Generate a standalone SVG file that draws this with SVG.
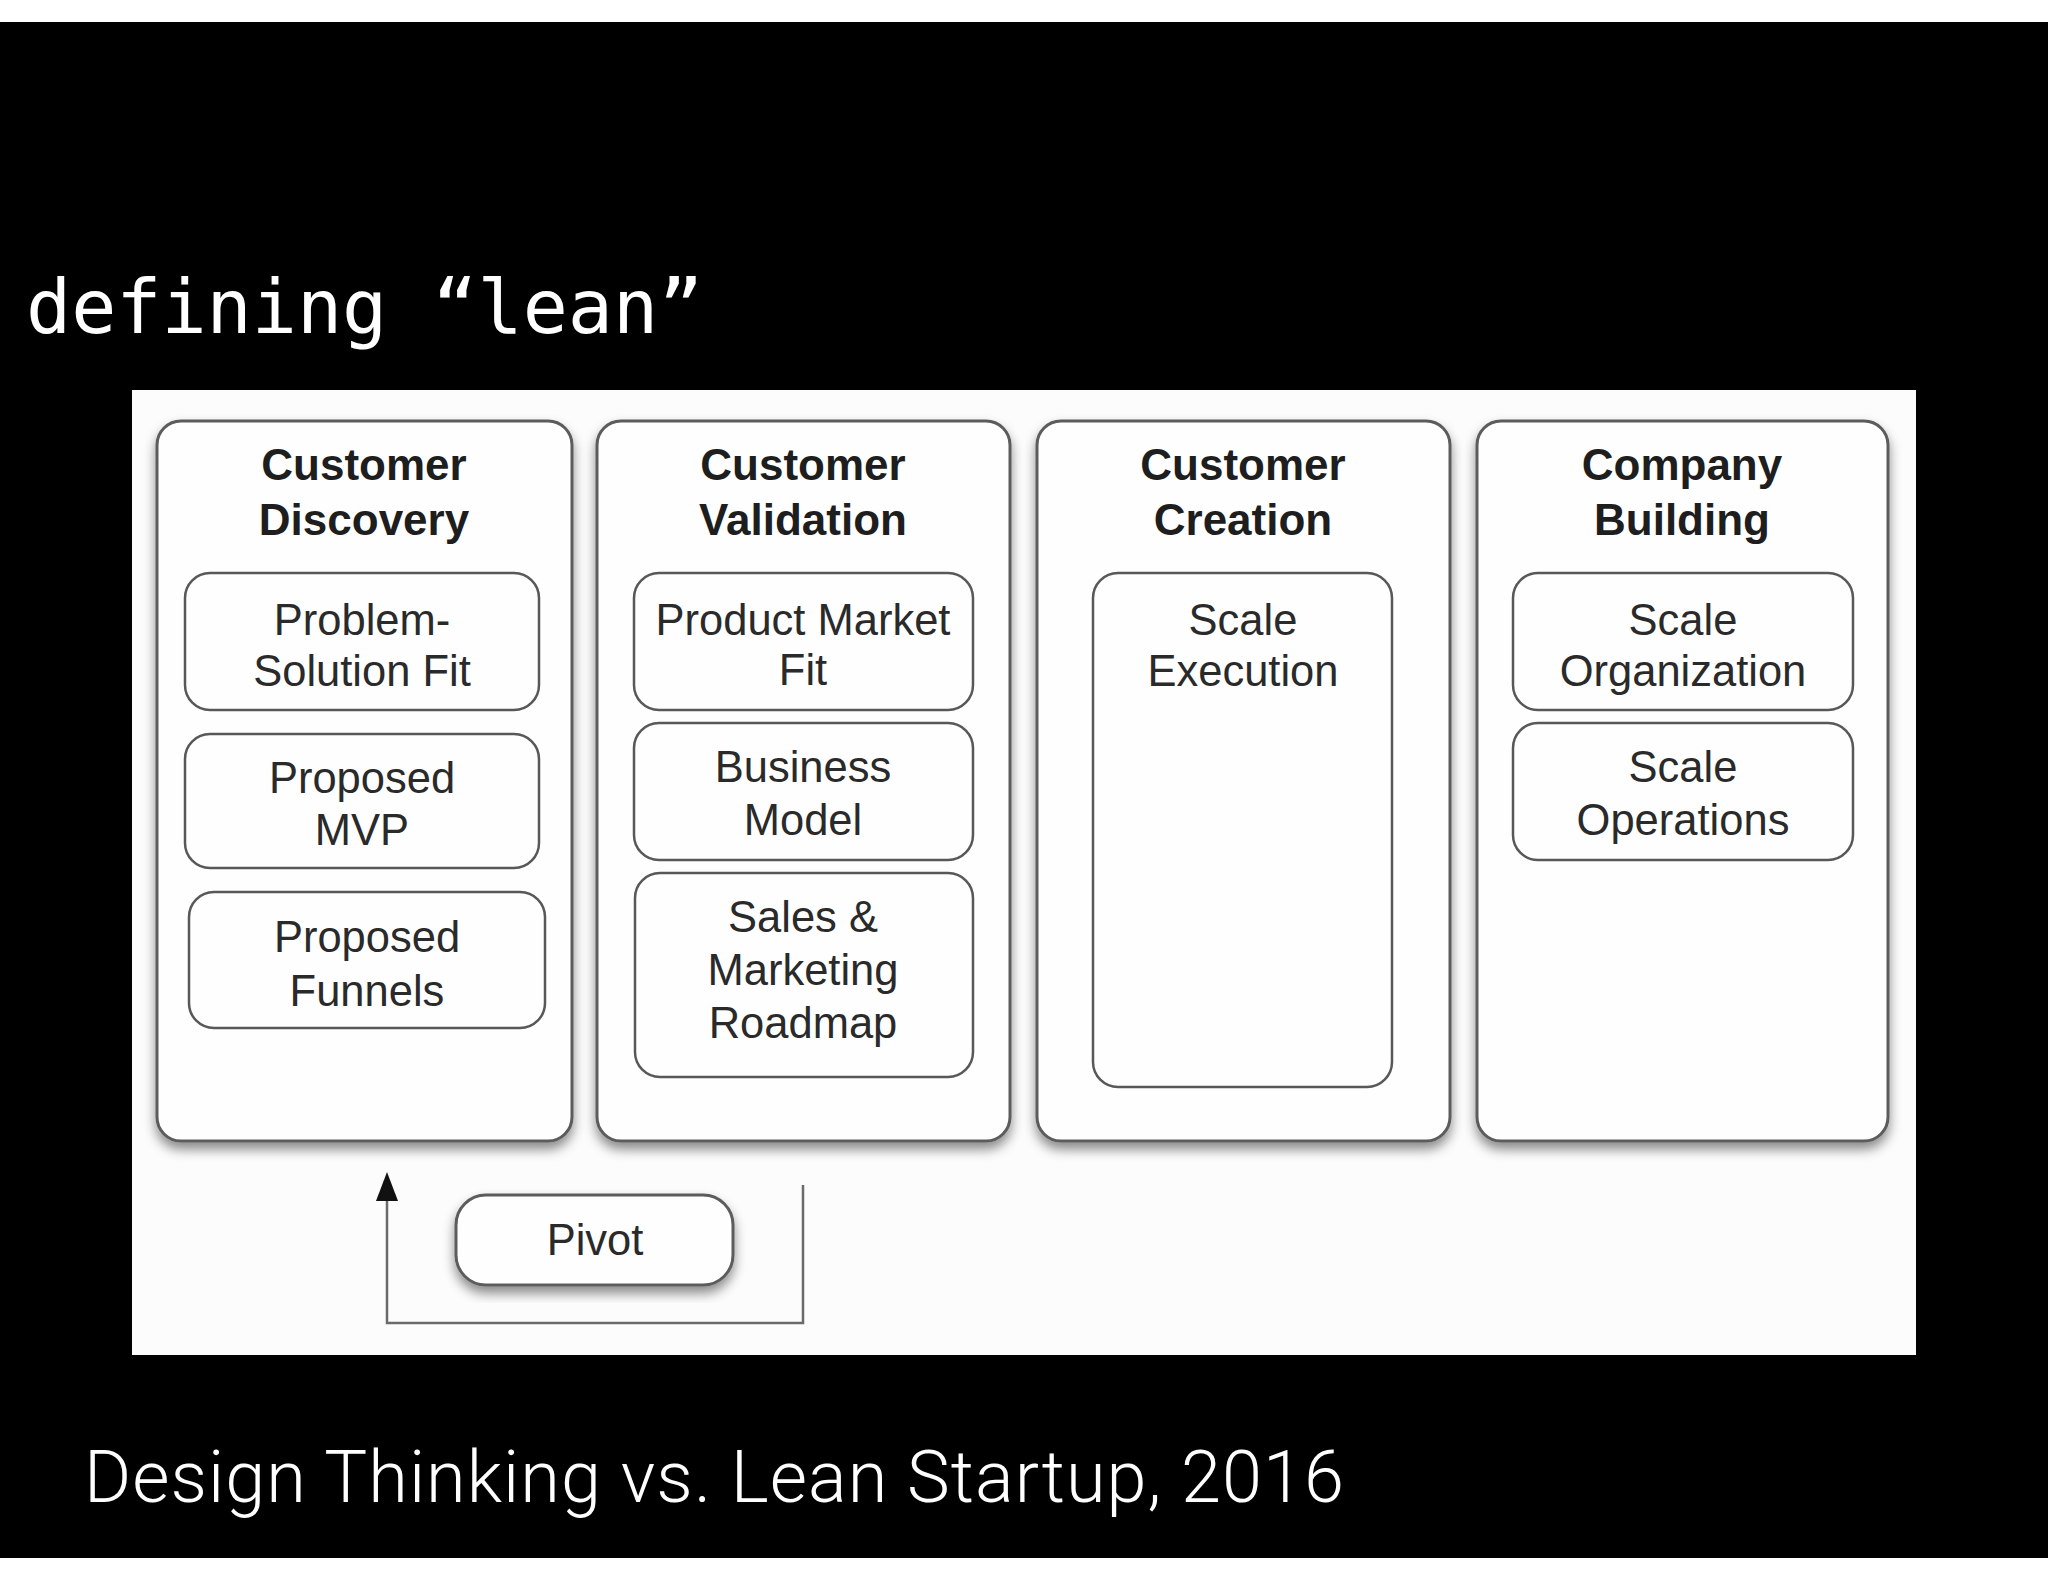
<svg xmlns="http://www.w3.org/2000/svg" width="2048" height="1582" viewBox="0 0 2048 1582">
<defs>
<style>
.col{fill:#fefefe;stroke:#5c5c5c;stroke-width:3}
.sub{fill:#fefefe;stroke:#585858;stroke-width:2.5}
.hdr{font-family:"Liberation Sans",Arial,sans-serif;font-weight:bold;font-size:44px;fill:#1e1e1e;text-anchor:middle}
.lbl{font-family:"Liberation Sans",Arial,sans-serif;font-size:43.5px;fill:#2a2a2a;text-anchor:middle}
.conn{fill:none;stroke:#6a6a6a;stroke-width:2.5}
</style>
<filter id="sh" x="-10%" y="-10%" width="120%" height="130%">
<feDropShadow dx="0" dy="7" stdDeviation="6" flood-color="#000" flood-opacity="0.45"/>
</filter>
</defs>
<rect x="0" y="0" width="2048" height="1582" fill="#ffffff"/>
<rect x="0" y="22" width="2048" height="1536" fill="#000000"/>
<text x="26" y="333" font-family="DejaVu Sans Mono,monospace" font-size="75" fill="#ffffff">defining “lean”</text>
<rect x="132" y="390" width="1784" height="965" fill="#fcfcfc"/>

<g id="connectors">
<polyline class="conn" points="803,1185 803,1323 387,1323 387,1200"/>
<path d="M376,1201 L387,1172 L398,1201 Z" fill="#111"/>
</g>

<g id="customer-discovery">
<rect class="col" x="157" y="421" width="415" height="720" rx="24" filter="url(#sh)"/>
<text class="hdr" x="364" y="480">Customer</text>
<text class="hdr" x="364" y="535">Discovery</text>
</g>
<g id="problem-solution-fit">
<rect class="sub" x="185" y="573" width="354" height="137" rx="25"/>
<text class="lbl" x="362" y="635">Problem-</text>
<text class="lbl" x="362" y="686">Solution Fit</text>
</g>
<g id="proposed-mvp">
<rect class="sub" x="185" y="734" width="354" height="134" rx="25"/>
<text class="lbl" x="362" y="793">Proposed</text>
<text class="lbl" x="362" y="845">MVP</text>
</g>
<g id="proposed-funnels">
<rect class="sub" x="189" y="892" width="356" height="136" rx="25"/>
<text class="lbl" x="367" y="952">Proposed</text>
<text class="lbl" x="367" y="1006">Funnels</text>
</g>

<g id="customer-validation">
<rect class="col" x="597" y="421" width="413" height="720" rx="24" filter="url(#sh)"/>
<text class="hdr" x="803" y="480">Customer</text>
<text class="hdr" x="803" y="535">Validation</text>
</g>
<g id="product-market-fit">
<rect class="sub" x="634" y="573" width="339" height="137" rx="25"/>
<text class="lbl" x="803" y="635">Product Market</text>
<text class="lbl" x="803" y="685">Fit</text>
</g>
<g id="business-model">
<rect class="sub" x="634" y="723" width="339" height="137" rx="25"/>
<text class="lbl" x="803" y="782">Business</text>
<text class="lbl" x="803" y="835">Model</text>
</g>
<g id="sales-marketing-roadmap">
<rect class="sub" x="635" y="873" width="338" height="204" rx="25"/>
<text class="lbl" x="803" y="932">Sales &amp;</text>
<text class="lbl" x="803" y="985">Marketing</text>
<text class="lbl" x="803" y="1038">Roadmap</text>
</g>

<g id="customer-creation">
<rect class="col" x="1037" y="421" width="413" height="720" rx="24" filter="url(#sh)"/>
<text class="hdr" x="1243" y="480">Customer</text>
<text class="hdr" x="1243" y="535">Creation</text>
</g>
<g id="scale-execution">
<rect class="sub" x="1093" y="573" width="299" height="514" rx="25"/>
<text class="lbl" x="1243" y="635">Scale</text>
<text class="lbl" x="1243" y="686">Execution</text>
</g>

<g id="company-building">
<rect class="col" x="1477" y="421" width="411" height="720" rx="24" filter="url(#sh)"/>
<text class="hdr" x="1682" y="480">Company</text>
<text class="hdr" x="1682" y="535">Building</text>
</g>
<g id="scale-organization">
<rect class="sub" x="1513" y="573" width="340" height="137" rx="25"/>
<text class="lbl" x="1683" y="635">Scale</text>
<text class="lbl" x="1683" y="686">Organization</text>
</g>
<g id="scale-operations">
<rect class="sub" x="1513" y="723" width="340" height="137" rx="25"/>
<text class="lbl" x="1683" y="782">Scale</text>
<text class="lbl" x="1683" y="835">Operations</text>
</g>

<g id="pivot">
<rect class="col" x="456" y="1195" width="277" height="90" rx="30" filter="url(#sh)"/>
<text class="lbl" x="595" y="1255">Pivot</text>
</g>

<text x="84" y="1502" font-family="Roboto,Liberation Sans,Arial,sans-serif" font-weight="300" font-size="72" fill="#ffffff" textLength="1260" lengthAdjust="spacing">Design Thinking vs. Lean Startup, 2016</text>
</svg>
